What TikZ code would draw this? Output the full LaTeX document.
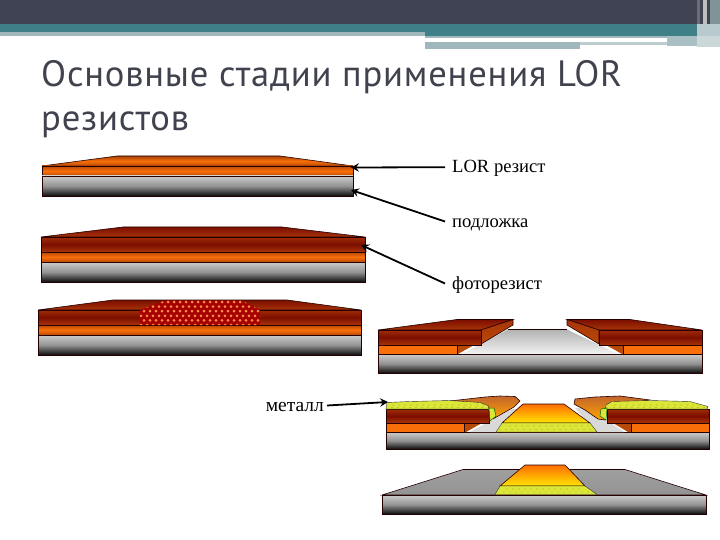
\documentclass[tikz,border=0pt]{standalone}
\usepackage{fontspec}
\setmainfont{Liberation Serif}
\newfontfamily\titlefont[LetterSpace=2.2]{PT Sans}
\usetikzlibrary{arrows.meta}
\definecolor{hdark}{HTML}{404353}
\definecolor{hteal}{HTML}{3F7F88}
\definecolor{hpale}{HTML}{A0B8BC}
\definecolor{ttl}{HTML}{40424E}
\definecolor{ored}{HTML}{F86E08}
\definecolor{odark}{HTML}{B84A08}
\definecolor{rdark}{HTML}{7C0E00}
\definecolor{rmid}{HTML}{A83408}
\definecolor{ylw}{HTML}{DCE638}
\definecolor{ydot}{HTML}{A0AC20}
\tikzset{
  x=1pt,y=-1pt,
  lbl/.style={font=\fontsize{18.6}{20}\selectfont,inner sep=0pt,inner xsep=7pt,anchor=base west,text=black,text height=11pt,text depth=0pt},
  cnn/.style={-{Stealth[length=8pt,width=8.5pt,inset=3pt]},line width=1.8pt,black},
  edge/.style={draw=black!85!red,line width=.6pt},
  sub/.style={top color=gray!40,bottom color=black!95,middle color=gray!85},
  lor/.style={top color=odark,bottom color=odark,middle color=ored},
  pr/.style={top color=rmid!80!rdark,bottom color=rmid,middle color=rdark},
  cap1/.style={top color=odark!90!black,bottom color=odark,middle color=ored},
  cap2/.style={top color=rdark,bottom color=rmid},
  bare/.style={top color=gray!70,bottom color=gray!15},
  gold/.style={top color=orange!85!red,bottom color=yellow!80!orange},
  brn/.style={top color=odark!85,bottom color=orange!70!yellow},
}
\newcommand{\lay}[5]{\shade[#5] (#1,#3) rectangle (#2,#4);\draw[edge] (#1,#3) rectangle (#2,#4);}
\begin{document}
\begin{tikzpicture}
\useasboundingbox (0,0) rectangle (720,540);
\fill[white] (0,0) rectangle (720,540);
% header
\fill[hdark] (0,0) rectangle (720,24);
\fill[hteal] (0,24) rectangle (720,36);
\fill[hpale] (0,32) rectangle (425,36);
\fill[hpale] (425,36) rectangle (705,38);
\fill[white] (425,38) rectangle (667,42);
\fill[hpale] (425,42) rectangle (580,49);
\fill[hpale!70] (580,42) rectangle (667,45);
\fill[hpale!90] (667,36) rectangle (697,46);
\fill[gray!70!hdark] (697,0) rectangle (700,24);
\fill[gray!50] (703,0) rectangle (707,24);
\fill[black!20!hpale] (710,0) rectangle (720,24);
\fill[hpale!75] (697,24) rectangle (720,36);
\fill[hpale!55] (697,36) rectangle (720,47);
% title
\node[font=\titlefont\fontsize{36.6}{44}\selectfont,text=ttl,anchor=north west,align=left,inner sep=0pt] (title) at (41,60.5)
  {Основные стадии применения LOR\\резистов};
% stack 1
\shade[cap1] (42,166) -- (117,156) -- (280,156) -- (353,166) -- cycle;
\draw[edge] (42,166) -- (117,156) -- (280,156) -- (353,166) -- cycle;
\lay{42}{353}{166}{176}{lor}
\lay{42}{353}{176}{196}{sub}
% stack 2
\shade[cap2] (41,237) -- (123,227) -- (282,227) -- (365,237) -- cycle;
\draw[edge] (41,237) -- (123,227) -- (282,227) -- (365,237) -- cycle;
\lay{41}{365}{237}{252}{pr}
\lay{41}{365}{252}{262}{lor}
\lay{41}{365}{262}{282}{sub}
% stack 3
\shade[cap2] (38,310) -- (113,300) -- (287,300) -- (361,310) -- cycle;
\draw[edge] (38,310) -- (113,300) -- (287,300) -- (361,310) -- cycle;
\lay{38}{361}{310}{325}{pr}
\lay{38}{361}{325}{335}{lor}
\lay{38}{361}{335}{355}{sub}
\fill[red!65!black] (165,300.5) -- (242,300.5) -- (260,310) -- (260,325) -- (140,325) -- (140,310) -- cycle;
\begin{scope}
\clip (165,300.5) -- (242,300.5) -- (260,310) -- (260,325) -- (140,325) -- (140,310) -- cycle;
\foreach \r in {0,...,5}{
  \pgfmathsetmacro{\off}{mod(\r,2)*3}
  \foreach \c in {0,...,21}{
    \fill[orange!70!red!70!white] (138+\c*6+\off,302+\r*4.6) circle (1.5);
  }
}
\end{scope}
% stack 4
\shade[top color=gray!60,bottom color=gray!10] (508,329.5) -- (567,329.5) -- (618,354) -- (462,354) -- cycle;
\draw[edge] (508,329.5) -- (567,329.5);
\lay{378}{702}{354}{373}{sub}
\fill[ored] (378,345) rectangle (457,354);
\fill[odark] (457,345) -- (474,345) -- (458,354) -- (457,354) -- cycle;
\draw[edge] (378,345) rectangle (457,354);
\fill[ored] (623,345) rectangle (702,354);
\fill[odark] (623,345) -- (606,345) -- (622,354) -- (623,354) -- cycle;
\draw[edge] (623,345) rectangle (702,354);
\shade[cap2] (378,330) -- (457,319.5) -- (513,319.5) -- (481,330) -- cycle;
\draw[edge] (378,330) -- (457,319.5) -- (513,319.5) -- (481,330) -- cycle;
\shade[top color=rmid,bottom color=odark] (481,330) -- (513,319.5) -- (513,325) -- (481,344) -- cycle;
\draw[edge] (481,330) -- (513,319.5) -- (513,325) -- (481,344) -- cycle;
\lay{378}{481}{330}{345}{pr}
\shade[cap2] (702,330) -- (630,319.5) -- (567,319.5) -- (599,330) -- cycle;
\draw[edge] (702,330) -- (630,319.5) -- (567,319.5) -- (599,330) -- cycle;
\shade[top color=rmid,bottom color=odark] (599,330) -- (567,319.5) -- (567,325) -- (599,344) -- cycle;
\draw[edge] (599,330) -- (567,319.5) -- (567,325) -- (599,344) -- cycle;
\lay{599}{702}{330}{345}{pr}
% stack 5
\lay{386}{709}{432}{449}{sub}
\fill[gray!30] (470,432) -- (497,432) -- (519,409) -- (512,409) -- cycle;
\fill[gray!30] (596,432) -- (624,432) -- (590,408) -- (575,408) -- cycle;
\fill[ored] (386,423) rectangle (464,432);
\fill[odark] (464,423) -- (482,423) -- (466,432) -- (464,432) -- cycle;
\draw[edge] (386,423) rectangle (464,432);
\fill[ored] (631,423) rectangle (709,432);
\fill[odark] (631,423) -- (613,423) -- (628,432) -- (631,432) -- cycle;
\draw[edge] (631,423) rectangle (709,432);
\lay{386}{489}{409}{423}{pr}
\lay{607}{709}{409}{423}{pr}
% caps left
\shade[brn] (450,401) -- (485,397) -- (500,396) -- (515,396.5) -- (520,401) -- (514,407) -- (493,419) -- (488,409) -- (488,406) -- cycle;
\draw[edge] (450,401) -- (485,397) -- (500,396) -- (515,396.5) -- (520,401) -- (514,407) -- (493,419) -- (488,409) -- (488,406) -- cycle;
\path[fill=ylw,draw=black!80] (387,402.5) -- (410,401.5) -- (450,400.5) -- (480,402.5) -- (488,405.5) -- (489,409) -- (386,409) -- cycle;
\fill[ylw,draw=black!60!green,line width=.5pt] (489,408) -- (494,408) -- (496,416) -- (490,421) -- cycle;
% caps right
\shade[brn] (650,400) -- (620,396) -- (595,397) -- (575,399) -- (574,404) -- (585,410) -- (598,419) -- (605,420) -- (606,407) -- cycle;
\draw[edge] (650,400) -- (620,396) -- (595,397) -- (575,399) -- (574,404) -- (585,410) -- (598,419) -- (605,420) -- (606,407) -- cycle;
\path[fill=ylw,draw=black!80] (612,401.5) -- (650,400.5) -- (690,401.5) -- (708,406.5) -- (707,409) -- (606,409) -- (606,405) -- cycle;
\fill[ylw,draw=black!60!green,line width=.5pt] (607,408) -- (601,409) -- (600,416) -- (606,420) -- cycle;
% centre
\shade[gold] (502,423) -- (523,404) -- (564,404) -- (590,423) -- cycle;
\draw[edge] (502,423) -- (523,404) -- (564,404) -- (590,423) -- cycle;
\path[fill=ylw,draw=black!80] (502,423) -- (590,423) -- (597,432) -- (496,432) -- cycle;
% stack 6
\shade[top color=gray!75,bottom color=gray!85] (382,495) -- (463,469.5) -- (625,469.5) -- (706,495) -- cycle;
\draw[edge] (382,495) -- (463,469.5) -- (625,469.5) -- (706,495) -- cycle;
\lay{382}{706}{495}{514}{sub}
\shade[gold] (500,486) -- (525,465) -- (565,465) -- (585,486) -- cycle;
\draw[edge] (500,486) -- (525,465) -- (565,465) -- (585,486) -- cycle;
\path[fill=ylw,draw=black!80] (500,486) -- (585,486) -- (597,494.5) -- (495,494.5) -- cycle;
% metal speckle
\foreach \a/\b/\yy in {390/486/405,392/486/407.5,612/704/405,610/704/407.5,505/588/426,500/594/429.5,504/584/489,500/592/492}{
  \foreach \xx in {\a,...,\b}{
    \pgfmathparse{int(mod(\xx*7+\yy*3,6))}
    \ifnum\pgfmathresult=0 \fill[ydot] (\xx,\yy) circle (.7);\fi
  }
}
% labels
\node[lbl] (lorlbl) at (445,172.7) {LOR резист};
\node[lbl] (sublbl) at (445,227) {подложка};
\node[lbl] (prlbl) at (445,289) {фоторезист};
\node[lbl,anchor=base east,inner xsep=3pt,font=\fontsize{19.5}{20}\selectfont] (metlbl) at (327,411) {металл};
\coordinate (lortip) at (351,167.5);
\coordinate (subtip) at (351,190);
\coordinate (prtip) at (361,245);
\coordinate (mettip) at (388,402);
\draw[cnn] (lorlbl.west) -- (lortip);
\draw[cnn] (sublbl.west) -- (subtip);
\draw[cnn] (prlbl.west) -- (prtip);
\draw[cnn] (metlbl.east) -- (mettip);
\end{tikzpicture}
\end{document}
